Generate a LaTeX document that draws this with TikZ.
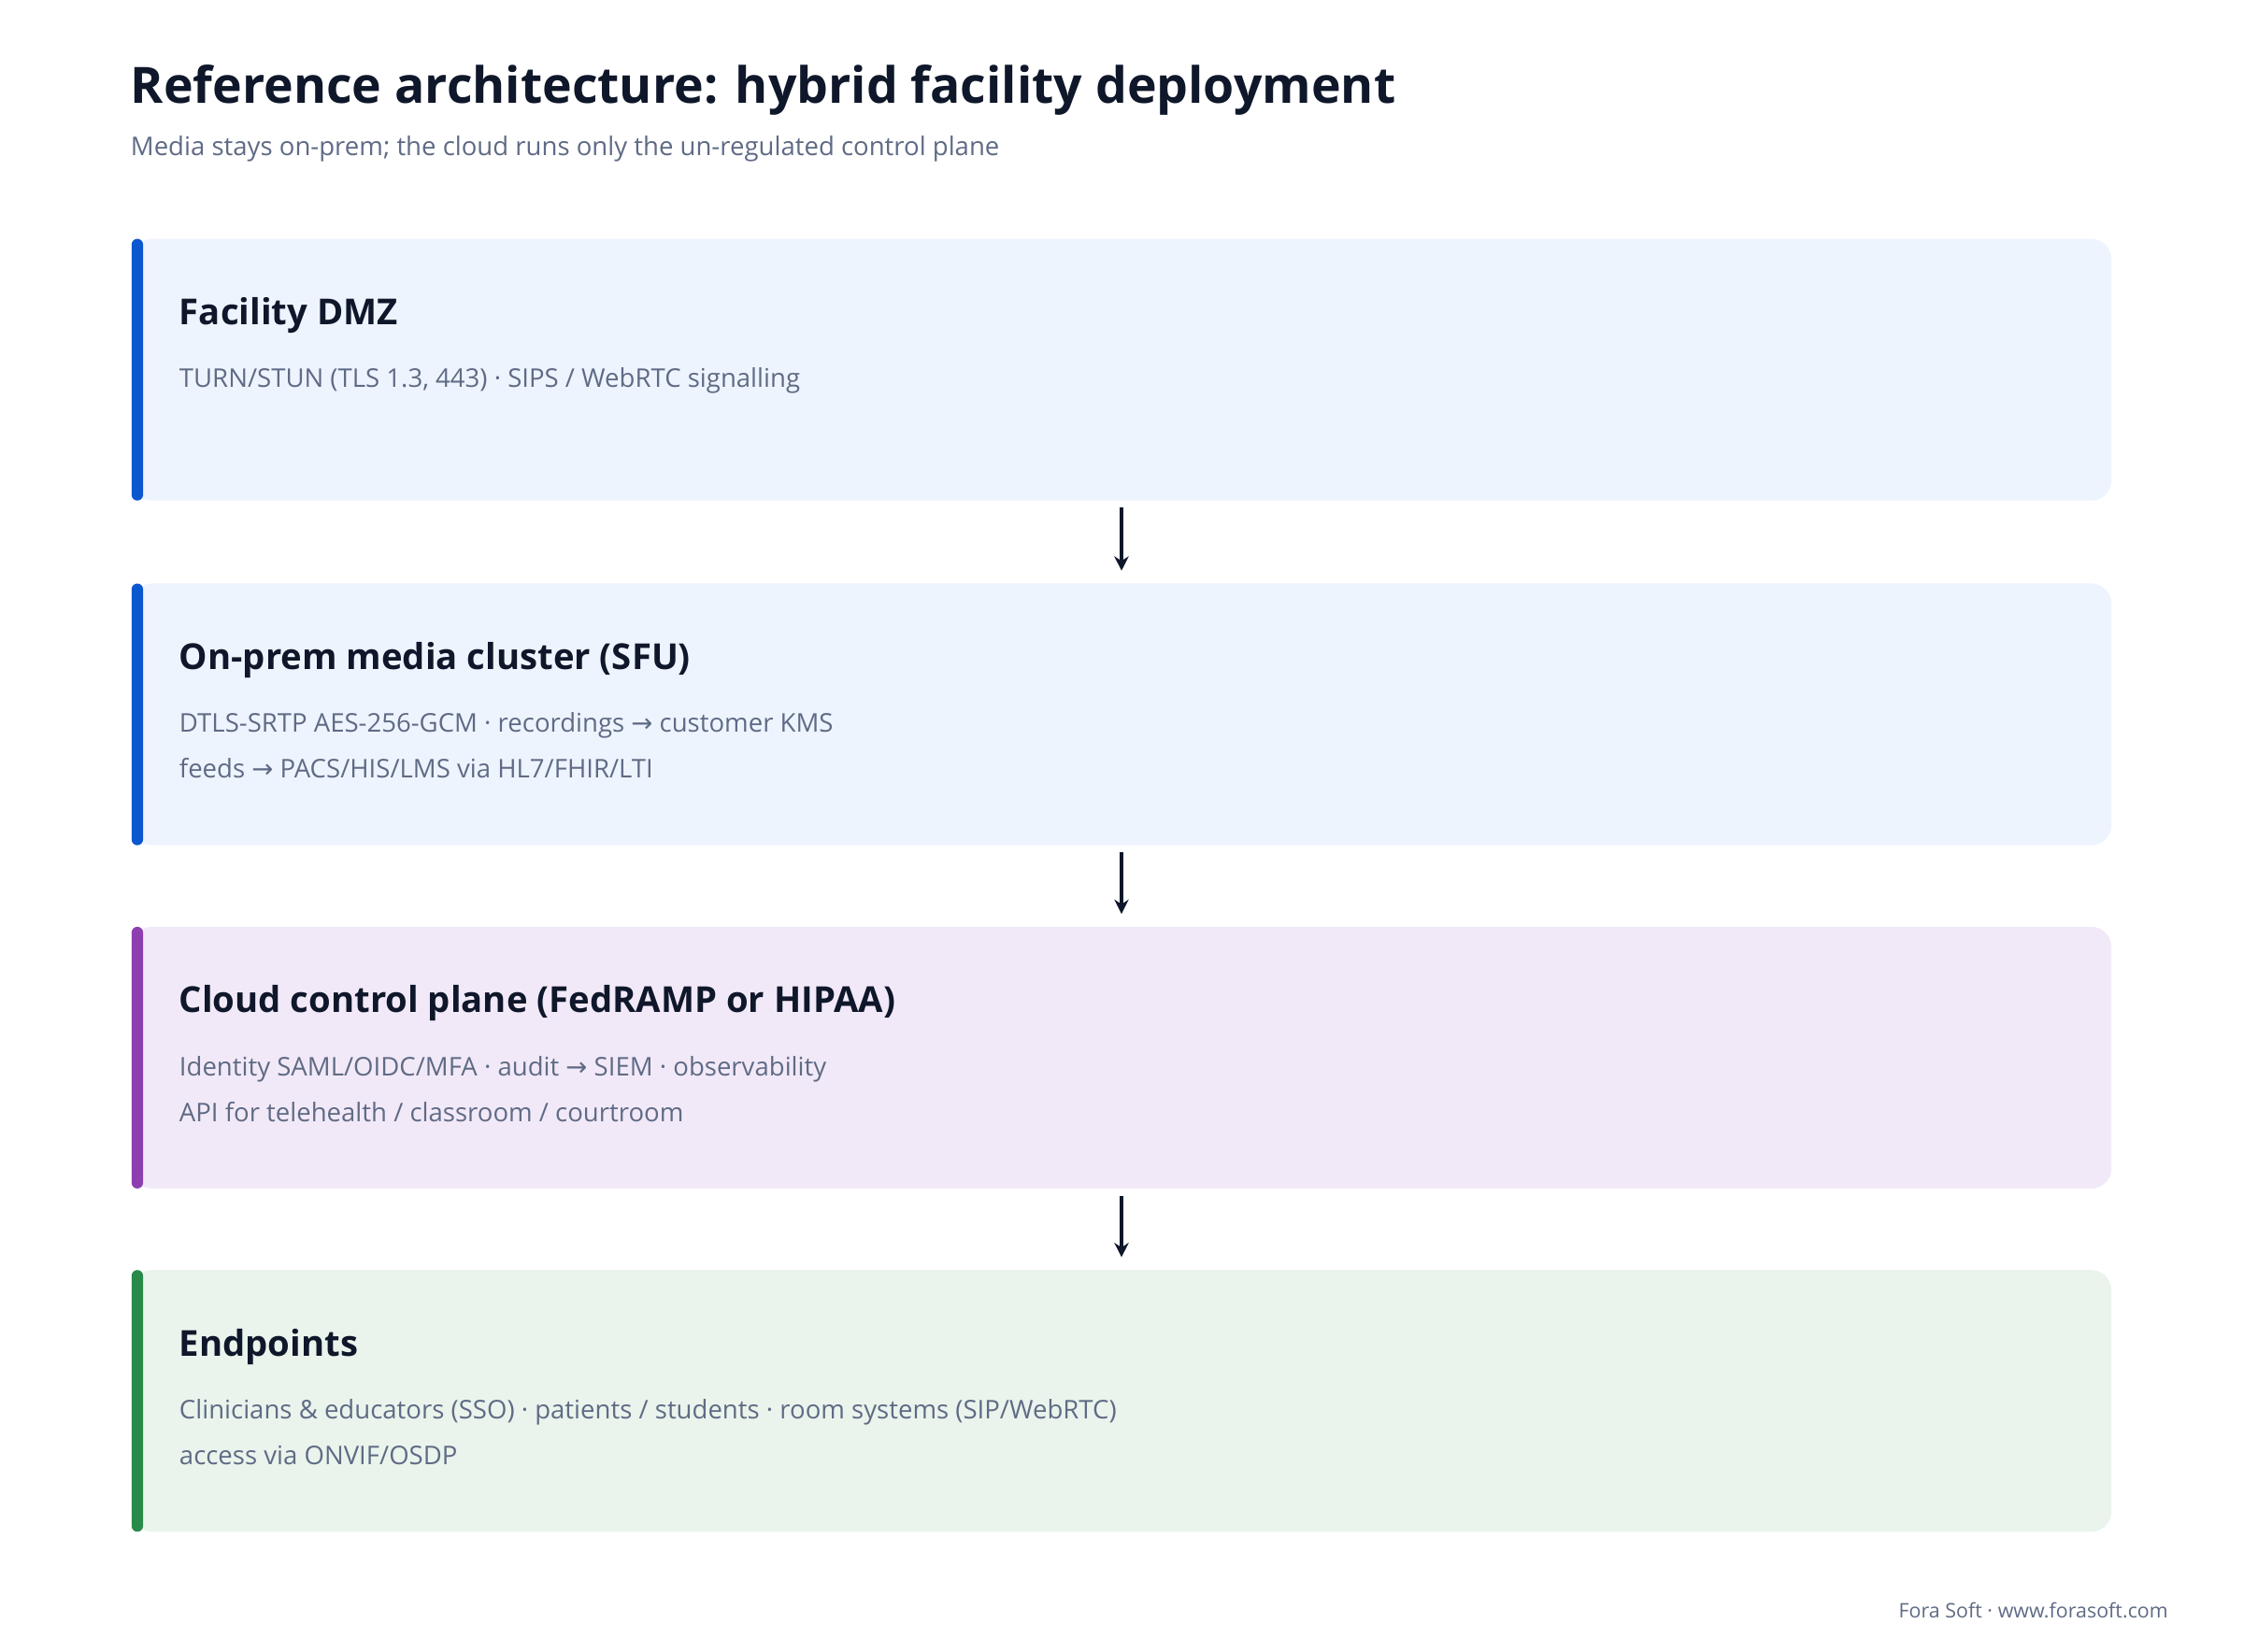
\documentclass[tikz,border=0pt]{standalone}
\usepackage{fontspec}
\setmainfont{Open Sans}
\newfontfamily\symf{DejaVu Sans}
\newcommand{\ra}{{\symf →}}
\usetikzlibrary{arrows.meta}
\definecolor{ink}{HTML}{0F172A}
\definecolor{sub}{HTML}{5F6B85}
\definecolor{fblue}{HTML}{EEF4FE}
\definecolor{bblue}{HTML}{0B57D0}
\definecolor{fpur}{HTML}{F2E9F8}
\definecolor{bpur}{HTML}{8E3FAF}
\definecolor{fgrn}{HTML}{EAF4EC}
\definecolor{bgrn}{HTML}{2A8A4A}
\tikzset{
 x=0.5pt,y=-0.5pt,
 ttl/.style={anchor=base west,inner sep=0,text=ink,font=\fontsize{12.5}{15}\selectfont\bfseries},
 body/.style={anchor=base west,inner sep=0,text=sub,font=\fontsize{9}{12}\selectfont},
 arr/.style={draw=ink,line width=1.2pt,-{Stealth[length=5pt,width=5pt]}}
}
\newcommand{\band}[7]{%
 \fill[#2,rounded corners=7pt] (92,#1) rectangle (1476,#1+183);
 \fill[#3,rounded corners=2pt] (92,#1) rectangle (100,#1+183);
 \node[ttl] (#4t) at (125,#1+60) {#5};
 \node[body] (#4b) at (125,#1+104) {#6};
 \node[body] (#4c) at (125,#1+136) {#7};
 \coordinate (#4top) at (784,#1-9);
 \coordinate (#4bot) at (784,#1+188);
}
\begin{document}
\begin{tikzpicture}
\useasboundingbox[fill=white] (0,0) rectangle (1568,1155);
\node[anchor=base west,inner sep=0,text=ink,font=\fontsize{17.5}{20}\selectfont\bfseries] (title) at (91,72) {Reference architecture: hybrid facility deployment};
\node[anchor=base west,inner sep=0,text=sub,font=\fontsize{9}{12}\selectfont] (subt) at (91,109) {Media stays on-prem; the cloud runs only the un-regulated control plane};
\band{167}{fblue}{bblue}{a}{Facility DMZ}{TURN/STUN (TLS 1.3, 443) · SIPS / WebRTC signalling}{}
\band{408}{fblue}{bblue}{b}{On-prem media cluster (SFU)}{DTLS-SRTP AES-256-GCM · recordings \ra{} customer KMS}{feeds \ra{} PACS/HIS/LMS via HL7/FHIR/LTI}
\band{648}{fpur}{bpur}{c}{Cloud control plane (FedRAMP or HIPAA)}{Identity SAML/OIDC/MFA · audit \ra{} SIEM · observability}{API for telehealth / classroom / courtroom}
\band{888}{fgrn}{bgrn}{d}{Endpoints}{Clinicians \& educators (SSO) · patients / students · room systems (SIP/WebRTC)}{access via ONVIF/OSDP}
\draw[arr] (abot) -- (btop);
\draw[arr] (bbot) -- (ctop);
\draw[arr] (cbot) -- (dtop);
\node[anchor=base east,inner sep=0,text=sub,font=\fontsize{7}{9}\selectfont] (foot) at (1516,1131) {Fora Soft · www.forasoft.com};
\end{tikzpicture}
\end{document}
